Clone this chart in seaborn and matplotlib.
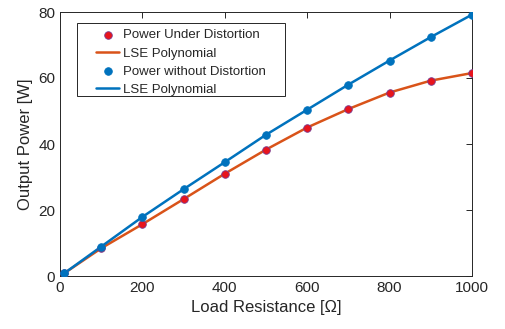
import matplotlib
matplotlib.use("Agg")
import matplotlib.pyplot as plt
from matplotlib.patches import Rectangle
import seaborn as sns
import pandas as pd

load = [10, 100, 200, 300, 400, 500, 600, 700, 800, 900, 1000]
p_dist = [0.8, 8.4, 15.7, 23.3, 31.0, 38.3, 45.0, 50.6, 55.6, 59.2, 61.5]
p_nodist = [0.8, 8.9, 17.9, 26.3, 34.5, 42.8, 50.4, 58.0, 65.3, 72.4, 79.2]

x_ticks = [0, 200, 400, 600, 800, 1000]
y_ticks = [0, 20, 40, 60, 80]

sns.set_style("white")
plt.rcParams['font.family'] = ['Liberation Sans', 'DejaVu Sans']

df = pd.DataFrame({"load": load, "dist": p_dist, "nodist": p_nodist})

fig = plt.figure(figsize=(5.06, 3.29), dpi=100)
ax = fig.add_axes([60/506, 1 - 276/329, (472-60)/506, (276-12)/329])

orange = "#D95319"
blue = "#0072BD"

sns.scatterplot(data=df, x="load", y="dist", ax=ax, color="#E8141C", s=30,
                edgecolor="#7a3b8f", linewidth=0.6, zorder=4, label="Power Under Distortion")
sns.lineplot(data=df, x="load", y="dist", ax=ax, color=orange, linewidth=1.8,
             zorder=3, label="LSE Polynomial")
sns.scatterplot(data=df, x="load", y="nodist", ax=ax, color=blue, s=30,
                edgecolor=blue, linewidth=0.6, zorder=4, label="Power without Distortion")
sns.lineplot(data=df, x="load", y="nodist", ax=ax, color=blue, linewidth=1.8,
             zorder=3, label="LSE Polynomial")

ax.set_xlim(0, 1000)
ax.set_ylim(0, 80)
ax.set_xticks(x_ticks)
ax.set_yticks(y_ticks)
ax.set_xlabel("Load Resistance [Ω]", fontsize=12, color="#262626")
ax.set_ylabel("Output Power [W]", fontsize=12, color="#262626")
ax.tick_params(direction="in", length=4, width=0.7, colors="#262626",
               labelsize=11, top=True, right=True, labelcolor="#262626")
for sp in ax.spines.values():
    sp.set_visible(True)
    sp.set_color("#262626")
    sp.set_linewidth(0.7)

# legend frame drawn as a box (MATLAB style, with wide right padding)
ax.add_patch(Rectangle((0.0413, 0.682), 0.546 - 0.0413, 0.958 - 0.682,
                       transform=ax.transAxes, facecolor="white",
                       edgecolor="#262626", linewidth=0.7, zorder=5))

h, l = ax.get_legend_handles_labels()
leg = ax.legend(h, l, loc="upper left", bbox_to_anchor=(0.0874, 0.935), fontsize=9.5,
                frameon=False, borderpad=0, borderaxespad=0,
                handlelength=1.75, handletextpad=0.3, labelspacing=0.45)
leg.set_zorder(6)

fig.savefig("out.png", dpi=100)
